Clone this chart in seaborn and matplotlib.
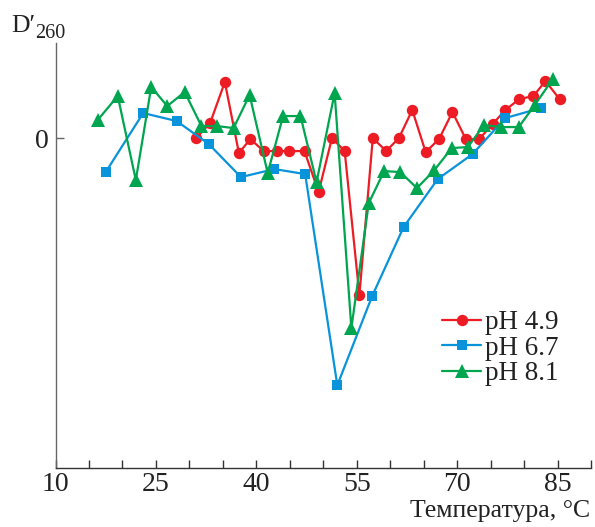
import numpy as np
import pandas as pd
import matplotlib
matplotlib.use("Agg")
import matplotlib.pyplot as plt
import seaborn as sns

# ---- data ----
t_ph49 = [31.0, 33.1, 35.3, 37.4, 39.1, 41.1, 43.1, 44.9, 47.2, 49.3, 51.3, 53.2, 55.4, 57.4,
          59.4, 61.3, 63.3, 65.3, 67.3, 69.3, 71.3, 73.3, 75.3, 77.2, 79.3, 81.4, 83.2, 85.3]
d_ph49 = [0.0, 1.5, 5.6, -1.5, -0.1, -1.3, -1.3, -1.3, -1.3, -5.4, 0.0, -1.3, -15.7, 0.0,
          -1.3, 0.0, 2.8, -1.4, -0.1, 2.6, -0.1, -0.1, 1.4, 2.8, 3.9, 4.2, 5.7, 3.9]

t_ph67 = [17.5, 23.1, 28.1, 32.9, 37.7, 42.7, 47.3, 52.1, 57.3, 62.0, 67.1, 72.3, 77.2, 82.5]
d_ph67 = [-3.4, 2.5, 1.7, -0.6, -3.9, -3.1, -3.6, -24.7, -15.8, -8.9, -4.1, -1.6, 2.0, 3.0]

t_ph81 = [16.3, 19.3, 22.0, 24.3, 26.7, 29.3, 31.8, 34.1, 36.6, 39.0, 41.7, 44.0, 46.6, 49.0,
          51.7, 54.2, 56.8, 59.1, 61.5, 64.0, 66.6, 69.2, 71.6, 74.0, 76.6, 79.2, 81.6, 84.3]
d_ph81 = [1.8, 4.2, -4.2, 5.1, 3.2, 4.6, 1.2, 1.2, 1.0, 4.3, -3.5, 2.2, 2.2, -4.4,
          4.5, -19.0, -6.5, -3.3, -3.4, -5.0, -3.2, -1.0, -0.9, 1.3, 1.1, 1.1, 3.3, 5.9]

labels = ["pH 4.9", "pH 6.7", "pH 8.1"]
xtick_vals = [10, 25, 40, 55, 70, 85]
x_label = "Температура, °C"

# ---- style ----
sns.set_theme(style="ticks")
plt.rcParams["font.family"] = ["Liberation Serif", "DejaVu Serif"]

W, H = 595, 527
fig = plt.figure(figsize=(W / 100, H / 100), dpi=100)
ax = fig.add_axes([55.5 / W, 1 - 468.3 / H, (591 - 55.5) / W, (468.3 - 43) / H])

series = [
    (t_ph49, d_ph49, labels[0], "#ED1C24", "o", 8.2),
    (t_ph67, d_ph67, labels[1], "#0993DA", "s", 7.4),
    (t_ph81, d_ph81, labels[2], "#00A54F", "^", 10.0),
]
for t, d, lab, col, mk, ms in series:
    df = pd.DataFrame({"T": t, "D": d})
    sns.lineplot(data=df, x="T", y="D", ax=ax, color=col, marker=mk, markersize=ms,
                 markeredgewidth=0, linewidth=1.6, sort=False, label=lab, estimator=None)

ax.set_xlim(10, 90)
ax.set_ylim(-33.0, 9.5)
ax.set_xticks(np.arange(10, 91, 5))
ax.set_xticklabels([str(v) if v in xtick_vals else "" for v in range(10, 91, 5)])
ax.set_yticks([0])
ax.set_yticklabels(["0"])
ax.set_xlabel("")
ax.set_ylabel("")

for s in ["top", "right"]:
    ax.spines[s].set_visible(False)
ax.spines["bottom"].set_color("#333333")
ax.spines["left"].set_color("#666666")
ax.spines["bottom"].set_linewidth(1.0)
ax.spines["left"].set_linewidth(1.0)
ax.tick_params(axis="x", direction="in", length=6, width=1, color="#333333",
               labelsize=20, pad=3, labelcolor="#222222")
ax.tick_params(axis="y", direction="in", length=5.5, width=1, color="#666666",
               labelsize=20, pad=5, labelcolor="#222222")

leg = ax.legend(loc="upper left", bbox_to_anchor=(442 / W, 1 - 310 / H),
                bbox_transform=fig.transFigure, frameon=False, fontsize=19.5,
                handlelength=1.45, handletextpad=0.15, labelspacing=0.02,
                borderpad=0, borderaxespad=0)
for txt in leg.get_texts():
    txt.set_color("#222222")

fig.text(11, H - 31.7, "D′", transform=None, fontsize=18.5, color="#222222",
         ha="left", va="baseline")
fig.text(35, H - 38.3, "260", transform=None, fontsize=14.5, color="#222222",
         ha="left", va="baseline")
fig.text(590, H - 517, x_label, transform=None, fontsize=18.5, color="#222222",
         ha="right", va="baseline")

fig.savefig("out.png", dpi=100)
